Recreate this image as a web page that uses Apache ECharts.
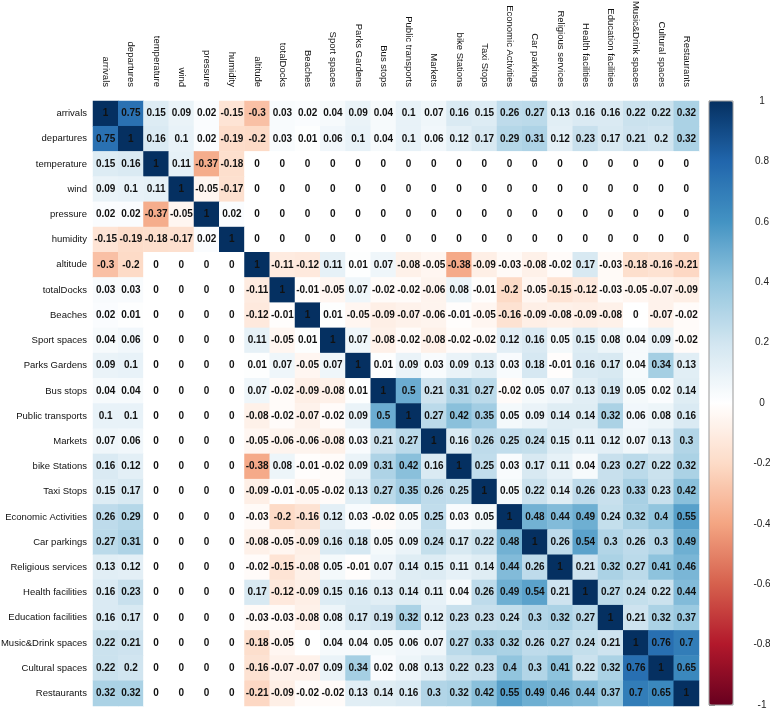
<!DOCTYPE html>
<html><head><meta charset="utf-8">
<script src="https://cdn.jsdelivr.net/npm/echarts@6/dist/echarts.min.js"></script>
<style>html,body{margin:0;padding:0;background:#fff}#c{width:770px;height:711px}</style>
</head><body><div id="c"></div>
<script>
const variables = ["arrivals","departures","temperature","wind","pressure","humidity","altitude","totalDocks","Beaches","Sport spaces","Parks Gardens","Bus stops","Public transports","Markets","bike Stations","Taxi Stops","Economic Activities","Car parkings","Religious services","Health facilities","Education facilities","Music&Drink spaces","Cultural spaces","Restaurants"];

const rowArrivals      = [1,0.75,0.15,0.09,0.02,-0.15,-0.3,0.03,0.02,0.04,0.09,0.04,0.1,0.07,0.16,0.15,0.26,0.27,0.13,0.16,0.16,0.22,0.22,0.32];
const rowDepartures    = [0.75,1,0.16,0.1,0.02,-0.19,-0.2,0.03,0.01,0.06,0.1,0.04,0.1,0.06,0.12,0.17,0.29,0.31,0.12,0.23,0.17,0.21,0.2,0.32];
const rowTemperature   = [0.15,0.16,1,0.11,-0.37,-0.18,0,0,0,0,0,0,0,0,0,0,0,0,0,0,0,0,0,0];
const rowWind          = [0.09,0.1,0.11,1,-0.05,-0.17,0,0,0,0,0,0,0,0,0,0,0,0,0,0,0,0,0,0];
const rowPressure      = [0.02,0.02,-0.37,-0.05,1,0.02,0,0,0,0,0,0,0,0,0,0,0,0,0,0,0,0,0,0];
const rowHumidity      = [-0.15,-0.19,-0.18,-0.17,0.02,1,0,0,0,0,0,0,0,0,0,0,0,0,0,0,0,0,0,0];
const rowAltitude      = [-0.3,-0.2,0,0,0,0,1,-0.11,-0.12,0.11,0.01,0.07,-0.08,-0.05,-0.38,-0.09,-0.03,-0.08,-0.02,0.17,-0.03,-0.18,-0.16,-0.21];
const rowTotalDocks    = [0.03,0.03,0,0,0,0,-0.11,1,-0.01,-0.05,0.07,-0.02,-0.02,-0.06,0.08,-0.01,-0.2,-0.05,-0.15,-0.12,-0.03,-0.05,-0.07,-0.09];
const rowBeaches       = [0.02,0.01,0,0,0,0,-0.12,-0.01,1,0.01,-0.05,-0.09,-0.07,-0.06,-0.01,-0.05,-0.16,-0.09,-0.08,-0.09,-0.08,0,-0.07,-0.02];
const rowSport         = [0.04,0.06,0,0,0,0,0.11,-0.05,0.01,1,0.07,-0.08,-0.02,-0.08,-0.02,-0.02,0.12,0.16,0.05,0.15,0.08,0.04,0.09,-0.02];
const rowParks         = [0.09,0.1,0,0,0,0,0.01,0.07,-0.05,0.07,1,0.01,0.09,0.03,0.09,0.13,0.03,0.18,-0.01,0.16,0.17,0.04,0.34,0.13];
const rowBusStops      = [0.04,0.04,0,0,0,0,0.07,-0.02,-0.09,-0.08,0.01,1,0.5,0.21,0.31,0.27,-0.02,0.05,0.07,0.13,0.19,0.05,0.02,0.14];
const rowPublic        = [0.1,0.1,0,0,0,0,-0.08,-0.02,-0.07,-0.02,0.09,0.5,1,0.27,0.42,0.35,0.05,0.09,0.14,0.14,0.32,0.06,0.08,0.16];
const rowMarkets       = [0.07,0.06,0,0,0,0,-0.05,-0.06,-0.06,-0.08,0.03,0.21,0.27,1,0.16,0.26,0.25,0.24,0.15,0.11,0.12,0.07,0.13,0.3];
const rowBike          = [0.16,0.12,0,0,0,0,-0.38,0.08,-0.01,-0.02,0.09,0.31,0.42,0.16,1,0.25,0.03,0.17,0.11,0.04,0.23,0.27,0.22,0.32];
const rowTaxi          = [0.15,0.17,0,0,0,0,-0.09,-0.01,-0.05,-0.02,0.13,0.27,0.35,0.26,0.25,1,0.05,0.22,0.14,0.26,0.23,0.33,0.23,0.42];
const rowEconomic      = [0.26,0.29,0,0,0,0,-0.03,-0.2,-0.16,0.12,0.03,-0.02,0.05,0.25,0.03,0.05,1,0.48,0.44,0.49,0.24,0.32,0.4,0.55];
const rowCarParkings   = [0.27,0.31,0,0,0,0,-0.08,-0.05,-0.09,0.16,0.18,0.05,0.09,0.24,0.17,0.22,0.48,1,0.26,0.54,0.3,0.26,0.3,0.49];
const rowReligious     = [0.13,0.12,0,0,0,0,-0.02,-0.15,-0.08,0.05,-0.01,0.07,0.14,0.15,0.11,0.14,0.44,0.26,1,0.21,0.32,0.27,0.41,0.46];
const rowHealth        = [0.16,0.23,0,0,0,0,0.17,-0.12,-0.09,0.15,0.16,0.13,0.14,0.11,0.04,0.26,0.49,0.54,0.21,1,0.27,0.24,0.22,0.44];
const rowEducation     = [0.16,0.17,0,0,0,0,-0.03,-0.03,-0.08,0.08,0.17,0.19,0.32,0.12,0.23,0.23,0.24,0.3,0.32,0.27,1,0.21,0.32,0.37];
const rowMusic         = [0.22,0.21,0,0,0,0,-0.18,-0.05,0,0.04,0.04,0.05,0.06,0.07,0.27,0.33,0.32,0.26,0.27,0.24,0.21,1,0.76,0.7];
const rowCultural      = [0.22,0.2,0,0,0,0,-0.16,-0.07,-0.07,0.09,0.34,0.02,0.08,0.13,0.22,0.23,0.4,0.3,0.41,0.22,0.32,0.76,1,0.65];
const rowRestaurants   = [0.32,0.32,0,0,0,0,-0.21,-0.09,-0.02,-0.02,0.13,0.14,0.16,0.3,0.32,0.42,0.55,0.49,0.46,0.44,0.37,0.7,0.65,1];

const matrixRows = [rowArrivals,rowDepartures,rowTemperature,rowWind,rowPressure,rowHumidity,rowAltitude,rowTotalDocks,rowBeaches,rowSport,rowParks,rowBusStops,rowPublic,rowMarkets,rowBike,rowTaxi,rowEconomic,rowCarParkings,rowReligious,rowHealth,rowEducation,rowMusic,rowCultural,rowRestaurants];

const colorbarTicks = [-1,-0.8,-0.6,-0.4,-0.2,0,0.2,0.4,0.6,0.8,1];

const data = [];
matrixRows.forEach((row, r) => row.forEach((v, c) => data.push([c, r, v])));

const FONT = '"Liberation Sans", Arial, sans-serif';
const chart = echarts.init(document.getElementById('c'), null, {renderer: 'canvas'});
chart.setOption({
  backgroundColor: '#fff',
  animation: false,
  grid: [
    {left: 93, top: 101, width: 606, height: 605, containLabel: false, outerBoundsMode: 'none'},
    {left: 709, top: 101, width: 24, height: 604, containLabel: false, outerBoundsMode: 'none',
     show: true, borderColor: '#999', borderWidth: 1, backgroundColor: 'transparent', z: 10}
  ],
  xAxis: [
    {type: 'category', data: variables, position: 'top', gridIndex: 0,
     axisLine: {show: false}, axisTick: {show: false}, splitLine: {show: false},
     axisLabel: {rotate: 90, interval: 0, fontSize: 9.5, color: '#111', margin: 14, fontFamily: FONT}},
    {type: 'value', gridIndex: 1, show: false, min: 0, max: 1}
  ],
  yAxis: [
    {type: 'category', data: variables, inverse: true, gridIndex: 0,
     axisLine: {show: false}, axisTick: {show: false}, splitLine: {show: false},
     axisLabel: {interval: 0, fontSize: 9.5, color: '#111', margin: 6, fontFamily: FONT}},
    {type: 'value', gridIndex: 1, position: 'right', min: colorbarTicks[0], max: colorbarTicks[colorbarTicks.length-1], interval: 0.2,
     axisLine: {show: true, lineStyle: {color: '#888'}}, axisTick: {show: true, length: 6, lineStyle: {color: '#888'}},
     splitLine: {show: false},
     axisLabel: {fontSize: 10, color: '#222', margin: 29, align: 'center', fontFamily: FONT, formatter: v => String(Number(v.toFixed(1)))}}
  ],
  visualMap: {
    type: 'continuous', min: -1, max: 1, calculable: false, seriesIndex: 0,
    orient: 'vertical', left: 709, top: 101, itemWidth: 24, itemHeight: 604, padding: 0,
    text: null, showLabel: false,
    inRange: {color: ['#67001F','#B2182B','#D6604D','#F4A582','#FDDBC7','#FFFFFF','#D1E5F0','#92C5DE','#4393C3','#2166AC','#053061']}
  },
  series: [{
    type: 'heatmap', xAxisIndex: 0, yAxisIndex: 0, data: data,
    label: {show: true, fontSize: 10, fontWeight: 'bold', color: '#111', fontFamily: FONT,
      formatter: p => String(p.value[2])},
    itemStyle: {borderWidth: 0},
    emphasis: {disabled: true}
  }]
});
</script></body></html>
